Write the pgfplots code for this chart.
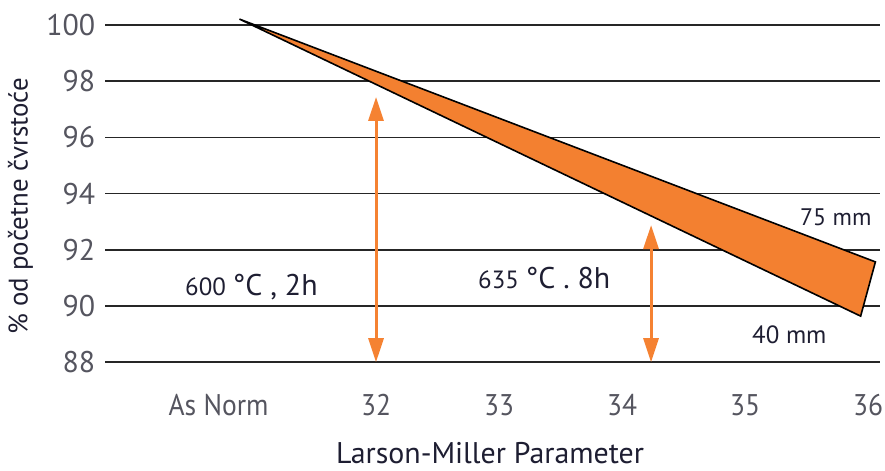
\documentclass[border=0pt]{standalone}
\usepackage{fontspec}
\setmainfont{PT Sans}
\usepackage{pgfplots}
\pgfplotsset{compat=1.18}
\usetikzlibrary{arrows.meta}
\definecolor{orfill}{RGB}{243,128,48}
\definecolor{orarrow}{RGB}{245,130,50}
\definecolor{tickcol}{RGB}{85,85,95}
\definecolor{txtcol}{RGB}{30,30,50}
\begin{document}
\begin{tikzpicture}
\begin{axis}[
  scale only axis,
  width=774.9bp, height=348.44bp,
  xmin=29.8, xmax=36.1, ymin=88, ymax=100.4,
  clip=false,
  axis line style={draw=none},
  tick style={draw=none},
  ymajorgrids=true,
  grid style={black!85, line width=1.6bp},
  ytick={88,90,...,100},
  xtick={30.72,32,33,34,35,36},
  xticklabels={As Norm,32,33,34,35,36},
  /pgf/number format/assume math mode=true,
  yticklabel style={font=\fontsize{30}{30}\selectfont, text=tickcol, anchor=east, inner sep=0pt, xshift=-10bp},
  xticklabel style={font=\fontsize{30}{30}\selectfont, text=tickcol, anchor=base, inner sep=0pt, yshift=-53bp, xscale=0.92},
]
\addplot[fill=orfill, draw=black, line width=1.6bp, line join=miter] coordinates {(30.89,100.21) (36.06,91.57) (35.94,89.64)} -- cycle;
\addplot[draw=orarrow, line width=3bp, {Triangle[width=15bp,length=24bp]}-{Triangle[width=15bp,length=24bp]}] coordinates {(32,88) (32,97.44)};
\addplot[draw=orarrow, line width=3bp, {Triangle[width=15bp,length=24bp]}-{Triangle[width=15bp,length=24bp]}] coordinates {(34.236,88) (34.236,92.88)};
\node[anchor=base west, inner sep=0pt, text=txtcol] at (axis cs:30.447,90.39) {\fontsize{25}{25}\selectfont 600 \fontsize{30}{30}\selectfont °C , 2h};
\node[anchor=base west, inner sep=0pt, text=txtcol] at (axis cs:32.829,90.64) {\fontsize{25}{25}\selectfont 635 \fontsize{30}{30}\selectfont °C . 8h};
\node[anchor=base west, inner sep=0pt, text=txtcol, font=\fontsize{24}{24}\selectfont] at (axis cs:35.447,92.88) {75 mm};
\node[anchor=base west, inner sep=0pt, text=txtcol, font=\fontsize{25}{25}\selectfont] at (axis cs:35.057,88.68) {40 mm};
\node[rotate=90, inner sep=0pt, text=txtcol, font=\fontsize{27}{27}\selectfont] at (axis cs:29.11,93.55) {\% od početne čvrstoće};
\node[anchor=base, inner sep=0pt, text=txtcol, font=\fontsize{30}{30}\selectfont] at (axis cs:32.927,84.41) {Larson-Miller Parameter};
\coordinate (bl) at (axis cs:28.943,84.164);
\coordinate (tr) at (axis cs:36.138,100.890);
\end{axis}
\pgfresetboundingbox
\path[use as bounding box] (bl) rectangle (tr);
\end{tikzpicture}
\end{document}
